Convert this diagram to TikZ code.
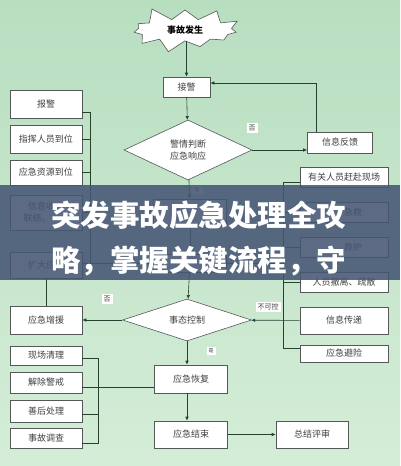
\documentclass[tikz,border=0pt]{standalone}
\usepackage{fontspec}
\setmainfont{Noto Sans CJK SC}
\usepackage{tikz}
\usetikzlibrary{arrows.meta, shapes.geometric, shapes.symbols, positioning, calc}
\definecolor{bgtop}{RGB}{184,222,192}
\definecolor{bgbot}{RGB}{212,237,215}
\definecolor{linec}{RGB}{38,66,44}
\definecolor{boxline}{RGB}{84,88,86}
\definecolor{banner}{RGB}{70,86,116}
\tikzset{
  box/.style={
    rectangle, draw=boxline, fill=white, line width=0.6pt,
    inner sep=1pt, align=center,
    font=\fontsize{9}{12}\selectfont, text=black!75
  },
  lbox/.style={box, minimum width=72pt, minimum height=#1},
  rbox/.style={box, minimum width=88pt, minimum height=#1},
  cbox/.style={box, minimum width=73pt, minimum height=#1},
  choice/.style={
    diamond, draw=boxline, fill=white, line width=0.6pt,
    inner sep=0pt, aspect=2, align=center,
    font=\fontsize{9}{12}\selectfont, text=black!75
  },
  burst/.style={
    starburst, draw=boxline, fill=white, line width=0.6pt,
    minimum width=124pt, minimum height=46pt,
    starburst points=11, starburst point height=15pt,
    random starburst=5, font=\fontsize{9}{11}\selectfont\bfseries
  },
  tag/.style={fill=white, inner sep=2pt, font=\fontsize{7}{8}\selectfont, text=black!75},
  arrow/.style={-{Latex[length=4pt,width=3.5pt]}, line width=0.6pt, draw=linec},
  link/.style={line width=0.6pt, draw=linec},
  bannertext/.style={text=white, inner sep=0pt, font=\fontsize{29.5}{30}\selectfont\bfseries}
}
\begin{document}
\begin{tikzpicture}[x=1pt, y=-1pt]

% Canvas
\useasboundingbox (0,0) rectangle (400,466);
\shade[top color=bgtop, bottom color=bgbot] (0,0) rectangle (400,466);

% Main flow
\node[burst] (start) at (185,30) {事故发生};
\node[cbox=20pt, minimum width=47pt] (recv) at (186.5,87) {接警};
\node[choice, minimum width=128pt, minimum height=60pt] (judge) at (188,150) {警情判断\\应急响应};
\node[box, minimum width=65pt, minimum height=21pt] (feedback) at (340,142.5) {信息反馈};
\node[cbox=26pt] (plan) at (190,212) {启\phantom{动预案}};
\node[cbox=18pt] (site) at (190,263) {};
\node[choice, minimum width=129pt, minimum height=42pt] (control) at (187,320) {事态控制};
\node[cbox=28pt] (recover) at (191,379) {应急恢复};
\node[cbox=27pt] (finish) at (191,434.5) {应急结束};
\node[box, minimum width=72pt, minimum height=27pt] (review) at (312,434.5) {总结评审};

% Left column
\node[lbox=28pt] (alarm) at (46,104) {报警};
\node[lbox=28pt] (command) at (46,139) {指挥人员到位};
\node[lbox=25pt] (resource) at (46,172.5) {应急资源到位};
\node[lbox=35pt] (collect) at (46,212.5) {信息收\phantom{集}\\联络、\phantom{通报}};
\node[lbox=26pt] (expand) at (46,265) {扩大应\phantom{急}};
\node[lbox=28pt] (reinforce) at (46,320) {应急增援};
\node[lbox=19pt] (clean) at (46,355.5) {现场清理};
\node[lbox=21pt] (lift) at (46,382.5) {解除警戒};
\node[lbox=22pt] (after) at (46,411) {善后处理};
\node[lbox=20pt] (probe) at (46,438) {事故调查};

% Right column
\node[rbox=20pt] (rush) at (344,177) {有关人员赶赴现场};
\node[rbox=20pt] (rescue) at (344,212) {\phantom{现场}急救};
\node[rbox=20pt] (medical) at (344,247) {\phantom{医疗}救护};
\node[rbox=20pt] (evacuate) at (344,282) {人员撤离、疏散};
\node[rbox=27pt] (relay) at (344,320.5) {信息传递};
\node[rbox=17pt] (avoid) at (344,353.5) {应急避险};

% Bracket corners
\coordinate (lbtop) at (90,112);
\coordinate (lbbot) at (90,263);
\coordinate (rbtop) at (283,182);
\coordinate (rbbot) at (283,348);
\coordinate (bbtop) at (98,358);
\coordinate (bbbot) at (98,443);

% Arrows
\draw[arrow] (start.south -| recv.north) -- (recv);
\draw[arrow] (recv) -- (judge);
\draw[arrow] (judge.east) -- (judge.east -| feedback.west);
\draw[arrow] ([xshift=-24pt]feedback.north) |- ([yshift=4pt]recv.east);
\draw[arrow] (judge) -- (plan);
\draw[arrow] (plan) -- (site);
\draw[arrow] (site) -- (control);
\draw[arrow] (control) -- (reinforce);
\draw[arrow] (relay) -- (control);
\draw[arrow] (control.south) -- (control.south |- recover.north);
\draw[arrow] (control.south |- recover.south) -- (control.south |- finish.north);
\draw[arrow] (finish) -- (review);
\draw[link] (expand) -- (reinforce);

% Brackets
\draw[link] ([yshift=-8pt]alarm.east) -- (lbtop) -- (lbbot);
\foreach \n in {command, resource, collect}
  \draw[link] (\n.east) -- (\n.east -| lbtop);
\draw[link] (expand.east |- site) -- (site.west);
\draw[link] (rbtop -| rush.west) -- (rbtop) -- (rbbot) -- (rbbot -| avoid.west);
\foreach \n in {rescue, medical, evacuate}
  \draw[link] (\n.west) -- (\n.west -| rbtop);
\draw[link] (site.east) -- (site.east -| rbtop);
\draw[link] (bbtop -| clean.east) -- (bbtop) -- (bbbot) -- (bbbot -| probe.east);
\draw[link] ([yshift=-4.5pt]lift.east) -- ([yshift=-4.5pt]lift.east -| recover.west);
\draw[link] ([yshift=-3pt]after.east) -- ([yshift=-3pt]after.east -| bbtop);

% Labels
\node[tag] (no1) at (252,128) {否};
\node[tag, font=\fontsize{5}{6}\selectfont] (yes1) at (197,190) {是};
\node[tag] (no2) at (107,299) {否};
\node[tag] (nc) at (268,307) {不可控};
\node[tag, font=\fontsize{5}{6}\selectfont] (yes2) at (211,351) {是};

% Title banner
\fill[banner, opacity=0.88] (0,185) rectangle (400,280);
\node[bannertext, anchor=west] (title1) at (51,215) {突发事故应急处理全攻};
\node[bannertext, anchor=west] (title2) at (51,261) {略，掌握关键流程，守};

\end{tikzpicture}
\end{document}
